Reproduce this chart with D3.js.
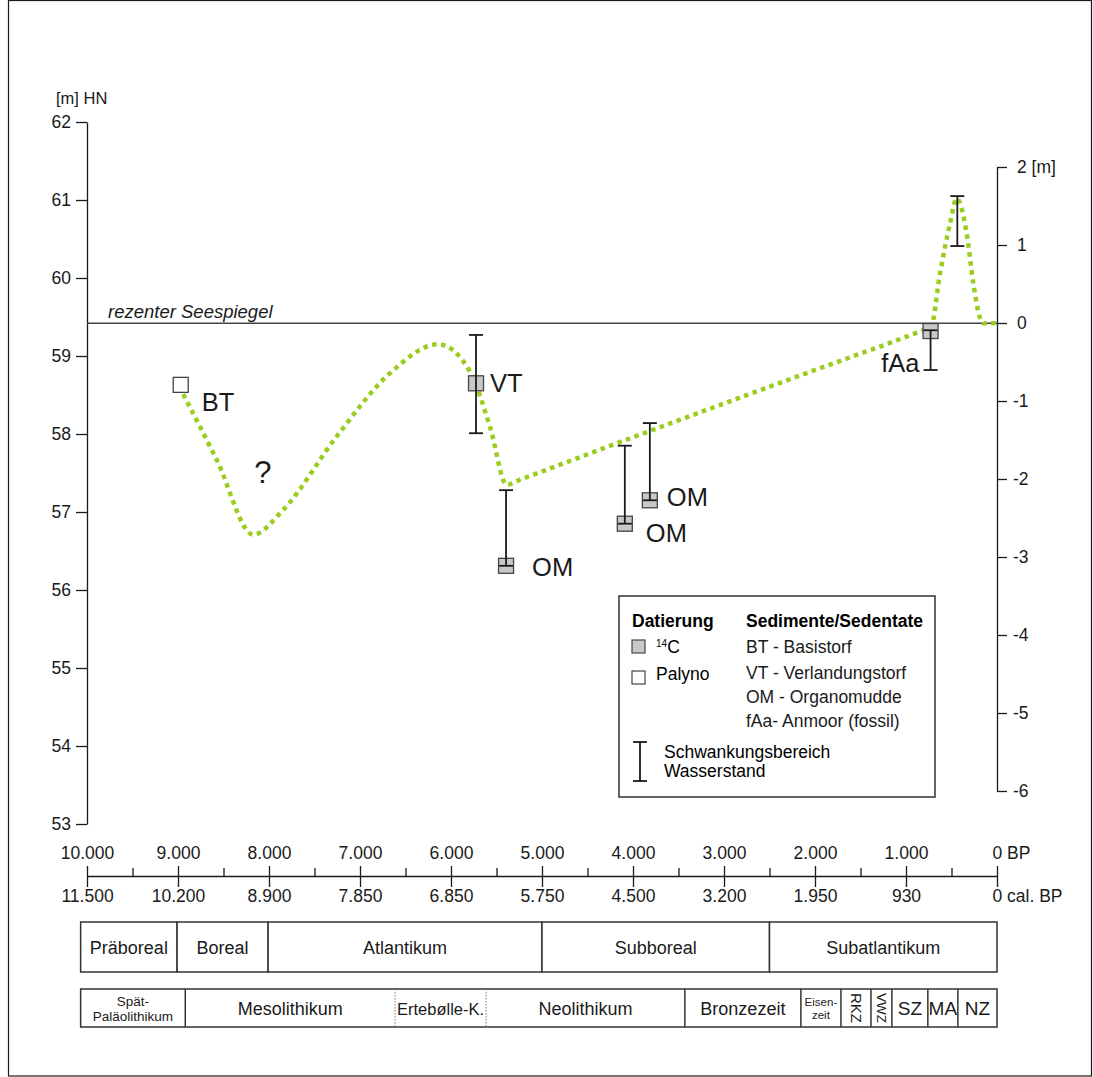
<!DOCTYPE html>
<html>
<head>
<meta charset="utf-8">
<script src="https://cdn.jsdelivr.net/npm/d3@7"></script>
<style>
  body { margin: 0; background: #fff; }
  svg { display: block; font-family: "Liberation Sans", Arial, sans-serif; }
</style>
</head>
<body>
<svg id="chart" width="1093" height="1077"></svg>
<script>
// axis ticks
const leftTicks = [53, 54, 55, 56, 57, 58, 59, 60, 61, 62];
const rightTicks = [-6, -5, -4, -3, -2, -1, 0, 1, 2];
const bpTicks = [10000, 9000, 8000, 7000, 6000, 5000, 4000, 3000, 2000, 1000, 0];
const bpLabels = ['10.000', '9.000', '8.000', '7.000', '6.000', '5.000', '4.000', '3.000', '2.000', '1.000', '0 BP'];
const calLabels = ['11.500', '10.200', '8.900', '7.850', '6.850', '5.750', '4.500', '3.200', '1.950', '930', '0 cal. BP'];
const minorTicks = [9500, 8500, 7500, 6500, 5500, 4500, 3500, 2500, 1500, 500];

// present lake level [m HN]
const seaLevel = 59.42;

// dated samples
const sampleLabels = ['BT', 'VT', 'OM', 'OM', 'OM', 'fAa'];
const sampleTypes = ['palyno', 'c14', 'c14', 'c14', 'c14', 'c14'];
const sampleBP = [8970, 5725, 5395, 4090, 3815, 730];
const sampleM = [58.63, 58.65, 56.31, 56.85, 57.15, 59.32];

// water level ranges
const rangeBP = [5725, 5395, 4090, 3815, 730, 436];
const rangeTop = [59.27, 57.28, 57.85, 58.14, 59.33, 61.05];
const rangeBottom = [58.01, 56.31, 56.85, 57.15, 58.82, 60.41];

// reconstructed lake level curve
const curveBP = [8942, 8575, 8173, 7843, 7256, 6670, 6140, 5791, 5571, 5388, 5250, 4088, 2165, 790, 725, 626, 516, 443, 333, 260, 187, 150, 0];
const curveM = [58.51, 57.67, 56.71, 57.03, 57.97, 58.78, 59.15, 58.80, 58.09, 57.35, 57.41, 57.92, 58.75, 59.34, 59.37, 60.06, 60.70, 61.02, 60.57, 59.93, 59.49, 59.42, 59.42];

// pollen zones
const periodNames = ['Präboreal', 'Boreal', 'Atlantikum', 'Subboreal', 'Subatlantikum'];
const periodBounds = [10070, 9010, 8010, 5000, 2500, 0];

// cultures
const cultureNames = [['Spät-', 'Paläolithikum'], ['Mesolithikum'], ['Ertebølle-K.'], ['Neolithikum'], ['Bronzezeit'],
  ['Eisen-', 'zeit'], ['RKZ'], ['VWZ'], ['SZ'], ['MA'], ['NZ']];
const cultureBounds = [10070, 8920, 6615, 5615, 3430, 2155, 1715, 1385, 1155, 760, 430, 0];

const svg = d3.select('#chart');
const ink = '#1a1a1a';
const green = '#9acd1e';

const x = d3.scaleLinear().domain([10000, 0]).range([87, 997]);
const y = d3.scaleLinear().domain([53, 62]).range([824, 122]);
const yr = d3.scaleLinear().domain([-6, 2]).range([791, 167]);

// outer frame
svg.append('rect')
  .attr('x', 8.5).attr('y', 0.5)
  .attr('width', 1083).attr('height', 1075.5)
  .attr('fill', 'none').attr('stroke', ink).attr('stroke-width', 1.2);

function styleAxis(g, size) {
  g.selectAll('path, line').attr('stroke', ink).attr('stroke-width', 1.3);
  g.selectAll('text').attr('font-size', size).attr('fill', ink)
    .attr('font-family', '"Liberation Sans", Arial, sans-serif');
}

// left axis
const gLeft = svg.append('g')
  .attr('transform', 'translate(87,0)')
  .call(d3.axisLeft(y).tickValues(leftTicks).tickSize(11).tickSizeOuter(0).tickPadding(5).tickFormat(d3.format('d')));
styleAxis(gLeft, 17.5);

svg.append('text')
  .attr('x', 56).attr('y', 104)
  .attr('font-size', 16.5).attr('fill', ink)
  .text('[m] HN');

// right axis
const gRight = svg.append('g')
  .attr('transform', 'translate(997,0)')
  .call(d3.axisRight(yr).tickValues(rightTicks).tickSize(10).tickSizeOuter(0).tickPadding(6)
    .tickFormat(d => d < 0 ? '-' + Math.abs(d) : (d === 2 ? '2 [m]' : String(d))));
styleAxis(gRight, 17.5);
gRight.selectAll('.tick text').attr('dx', d => d < 0 ? 0 : 4);

// present lake level line
svg.append('line')
  .attr('x1', 87).attr('x2', 997)
  .attr('y1', y(seaLevel)).attr('y2', y(seaLevel))
  .attr('stroke', '#444').attr('stroke-width', 1.4);

svg.append('text')
  .attr('x', 108).attr('y', y(seaLevel) - 5)
  .attr('font-size', 18.5).attr('font-style', 'italic').attr('fill', ink)
  .text('rezenter Seespiegel');

// time axis
const axisY = 876;
const gTop = svg.append('g')
  .attr('transform', `translate(0,${axisY})`)
  .call(d3.axisTop(x).tickValues(bpTicks).tickSize(10).tickSizeOuter(0).tickPadding(7)
    .tickFormat((d, i) => bpLabels[i]));
styleAxis(gTop, 17.5);

const gBottom = svg.append('g')
  .attr('transform', `translate(0,${axisY})`)
  .call(d3.axisBottom(x).tickValues(bpTicks).tickSize(11).tickSizeOuter(0).tickPadding(3)
    .tickFormat((d, i) => calLabels[i]));
styleAxis(gBottom, 17.5);
gBottom.select('.domain').remove();

const gMinor = svg.append('g')
  .attr('transform', `translate(0,${axisY})`)
  .call(d3.axisTop(x).tickValues(minorTicks).tickSize(8).tickSizeOuter(0).tickFormat(''));
styleAxis(gMinor, 17.5);
gMinor.select('.domain').remove();

[gTop, gBottom].forEach(g => {
  g.selectAll('.tick').filter(d => d === 0).select('text')
    .attr('text-anchor', 'start').attr('x', -5);
});

// lake level curve
const line = d3.line()
  .x(d => x(d[0]))
  .y(d => y(d[1]))
  .curve(d3.curveMonotoneX);

svg.append('path')
  .datum(curveBP.map((bp, i) => [bp, curveM[i]]))
  .attr('d', line)
  .attr('fill', 'none')
  .attr('stroke', green)
  .attr('stroke-width', 4.5)
  .attr('stroke-dasharray', '4.5,4.5');

// sample squares
const sq = 15;
svg.append('g').selectAll('rect')
  .data(sampleBP.map((bp, i) => ({ bp, m: sampleM[i], type: sampleTypes[i] })))
  .join('rect')
  .attr('x', d => x(d.bp) - sq / 2)
  .attr('y', d => y(d.m) - sq / 2)
  .attr('width', sq).attr('height', sq)
  .attr('fill', d => d.type === 'c14' ? '#c8c8c8' : '#fff')
  .attr('stroke', '#444').attr('stroke-width', 1.3);

// range bars
const cap = 7;
const bars = svg.append('g').selectAll('g')
  .data(rangeBP.map((bp, i) => ({ bp, top: rangeTop[i], bottom: rangeBottom[i] })))
  .join('g')
  .attr('stroke', ink).attr('stroke-width', 1.8);
bars.append('line')
  .attr('x1', d => x(d.bp)).attr('x2', d => x(d.bp))
  .attr('y1', d => y(d.top)).attr('y2', d => y(d.bottom));
bars.append('line')
  .attr('x1', d => x(d.bp) - cap).attr('x2', d => x(d.bp) + cap)
  .attr('y1', d => y(d.top)).attr('y2', d => y(d.top));
bars.append('line')
  .attr('x1', d => x(d.bp) - cap).attr('x2', d => x(d.bp) + cap)
  .attr('y1', d => y(d.bottom)).attr('y2', d => y(d.bottom));

// sample labels
const labelOffsets = [[21, 26, 'start'], [14, 9, 'start'], [26, 10, 'start'], [21, 18, 'start'], [17, 6, 'start'], [-11, 41, 'end']];
svg.append('g').selectAll('text')
  .data(sampleLabels)
  .join('text')
  .attr('x', (d, i) => x(sampleBP[i]) + labelOffsets[i][0])
  .attr('y', (d, i) => y(sampleM[i]) + labelOffsets[i][1])
  .attr('text-anchor', (d, i) => labelOffsets[i][2])
  .attr('font-size', 25.5).attr('fill', ink)
  .text(d => d);

svg.append('text')
  .attr('x', x(8066)).attr('y', y(57.37))
  .attr('text-anchor', 'middle')
  .attr('font-size', 31).attr('fill', ink)
  .text('?');

// legend
const lg = svg.append('g');
lg.append('rect')
  .attr('x', 619).attr('y', 596).attr('width', 316).attr('height', 201)
  .attr('fill', '#fff').attr('stroke', '#333').attr('stroke-width', 1.5);
lg.append('text').attr('x', 632).attr('y', 627).attr('font-size', 17.5).attr('font-weight', 'bold').text('Datierung');
lg.append('text').attr('x', 746).attr('y', 627).attr('font-size', 17.5).attr('font-weight', 'bold').text('Sedimente/Sedentate');
lg.append('rect').attr('x', 632).attr('y', 640).attr('width', 13).attr('height', 13)
  .attr('fill', '#c8c8c8').attr('stroke', '#444').attr('stroke-width', 1.2);
const c14 = lg.append('text').attr('x', 656).attr('y', 653).attr('font-size', 17.5);
c14.append('tspan').attr('font-size', 10).attr('dy', -6).text('14');
c14.append('tspan').attr('dy', 6).text('C');
lg.append('rect').attr('x', 632).attr('y', 671).attr('width', 13).attr('height', 13)
  .attr('fill', '#fff').attr('stroke', '#444').attr('stroke-width', 1.2);
lg.append('text').attr('x', 656).attr('y', 680).attr('font-size', 17.5).text('Palyno');
const sedimentTexts = ['BT - Basistorf', 'VT - Verlandungstorf', 'OM - Organomudde', 'fAa- Anmoor (fossil)'];
const sedimentY = [653, 679, 703, 727];
lg.selectAll('.sed').data(sedimentTexts).join('text')
  .attr('class', 'sed')
  .attr('x', 746).attr('y', (d, i) => sedimentY[i])
  .attr('font-size', 17.5).attr('fill', ink)
  .text(d => d);
const lgBar = lg.append('g').attr('stroke', ink).attr('stroke-width', 1.8);
lgBar.append('line').attr('x1', 640).attr('x2', 640).attr('y1', 742).attr('y2', 781);
lgBar.append('line').attr('x1', 633).attr('x2', 647).attr('y1', 742).attr('y2', 742);
lgBar.append('line').attr('x1', 633).attr('x2', 647).attr('y1', 781).attr('y2', 781);
lg.append('text').attr('x', 664).attr('y', 758).attr('font-size', 17.5).text('Schwankungsbereich');
lg.append('text').attr('x', 664).attr('y', 777).attr('font-size', 17.5).text('Wasserstand');

// pollen zone boxes
const pTop = 922, pBot = 972;
const gp = svg.append('g');
gp.selectAll('rect')
  .data(periodNames)
  .join('rect')
  .attr('x', (d, i) => x(periodBounds[i]))
  .attr('y', pTop)
  .attr('width', (d, i) => x(periodBounds[i + 1]) - x(periodBounds[i]))
  .attr('height', pBot - pTop)
  .attr('fill', '#fff').attr('stroke', '#333').attr('stroke-width', 1.5);
gp.selectAll('text')
  .data(periodNames)
  .join('text')
  .attr('x', (d, i) => (x(periodBounds[i]) + x(periodBounds[i + 1])) / 2)
  .attr('y', (pTop + pBot) / 2 + 6.5)
  .attr('text-anchor', 'middle')
  .attr('font-size', 18).attr('fill', ink)
  .text(d => d);

// culture boxes
const cTop = 989, cBot = 1027;
const gc = svg.append('g');
gc.append('rect')
  .attr('x', x(cultureBounds[0])).attr('y', cTop)
  .attr('width', x(0) - x(cultureBounds[0])).attr('height', cBot - cTop)
  .attr('fill', '#fff').attr('stroke', '#333').attr('stroke-width', 1.5);
const dottedDividers = [2, 3];
gc.selectAll('line')
  .data(cultureBounds.slice(1, -1))
  .join('line')
  .attr('x1', d => x(d)).attr('x2', d => x(d))
  .attr('y1', cTop).attr('y2', cBot)
  .attr('stroke', (d, i) => dottedDividers.includes(i + 1) ? '#777' : '#333')
  .attr('stroke-width', (d, i) => dottedDividers.includes(i + 1) ? 1 : 1.5)
  .attr('stroke-dasharray', (d, i) => dottedDividers.includes(i + 1) ? '1.5,1.5' : null);

const cMid = (cTop + cBot) / 2;
cultureNames.forEach((lines, i) => {
  const cx = (x(cultureBounds[i]) + x(cultureBounds[i + 1])) / 2;
  if (lines.length === 2) {
    const fs = i === 0 ? 13.5 : 11.5;
    const t = gc.append('text').attr('text-anchor', 'middle').attr('font-size', fs).attr('fill', ink);
    t.append('tspan').attr('x', cx).attr('y', cMid - 2).text(lines[0]);
    t.append('tspan').attr('x', cx).attr('y', cMid + fs - 1).text(lines[1]);
  } else if (lines[0] === 'RKZ' || lines[0] === 'VWZ') {
    gc.append('text')
      .attr('transform', `translate(${cx},${cMid}) rotate(90)`)
      .attr('text-anchor', 'middle').attr('dy', '0.35em')
      .attr('font-size', lines[0] === 'RKZ' ? 15 : 13.5).attr('fill', ink)
      .text(lines[0]);
  } else {
    gc.append('text')
      .attr('x', cx).attr('y', cMid + 6.5)
      .attr('text-anchor', 'middle')
      .attr('font-size', i === 2 ? 16.5 : (i >= 8 ? 19 : 18)).attr('fill', ink)
      .text(lines[0]);
  }
});
</script>
</body>
</html>
